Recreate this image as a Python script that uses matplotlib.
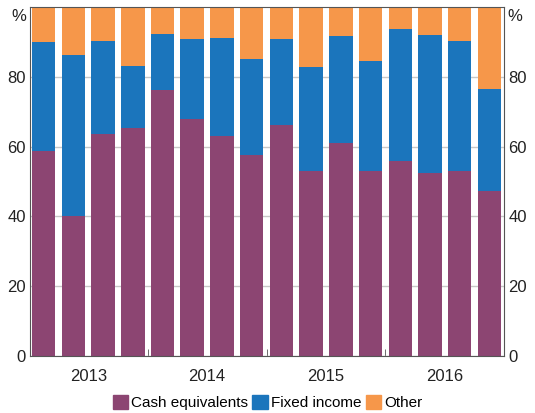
import numpy as np
import matplotlib
matplotlib.use('Agg')
import matplotlib.pyplot as plt
from matplotlib.patches import Patch

plt.rcParams['font.family'] = ['Liberation Sans', 'DejaVu Sans']

# quarterly shares, 2013 Q1 .. 2016 Q4
years = ['2013', '2014', '2015', '2016']
cash = [58.8, 40.2, 63.7, 65.3, 76.2, 68.0, 63.0, 57.5,
        66.1, 53.0, 61.0, 52.9, 55.9, 52.5, 52.9, 47.3]
fixed = [31.3, 46.1, 26.7, 17.8, 16.2, 22.8, 28.2, 27.7,
         24.6, 29.7, 30.6, 31.7, 37.7, 39.6, 37.5, 29.3]
other = [100 - c - f for c, f in zip(cash, fixed)]

c_cash = '#8C4572'
c_fixed = '#1B75BC'
c_other = '#F6974A'

x = np.arange(len(cash))
cash = np.array(cash)
fixed = np.array(fixed)
other = np.array(other)

fig = plt.figure(figsize=(5.35, 4.13), dpi=100)
ax = fig.add_axes([0.056, 0.138, 0.886, 0.845])

w = 0.79
ax.bar(x, cash, w, color=c_cash, zorder=2)
ax.bar(x, fixed, w, bottom=cash, color=c_fixed, zorder=2)
ax.bar(x, other, w, bottom=cash + fixed, color=c_other, zorder=2)

ax.set_ylim(0, 100)
ax.set_xlim(-0.46, 15.49)
ax.set_yticks([0, 20, 40, 60, 80])
ax.yaxis.grid(True, color='#c8c8c8', linewidth=1, zorder=0)
ax.tick_params(axis='y', length=0, labelsize=12, pad=3, labelcolor='#222222',
               right=True, labelright=True)

ax.set_xticks([1.5, 5.5, 9.5, 13.5])
ax.set_xticklabels(years)
ax.set_xticks([3.5, 7.5, 11.5], minor=True)
ax.tick_params(axis='x', which='major', length=0, labelsize=12, pad=9, labelcolor='#222222')
ax.tick_params(axis='x', which='minor', direction='in', length=5, color='#555555')

for s in ax.spines.values():
    s.set_color('#555555')
    s.set_zorder(3)

ax.text(-0.008, 97.2, '%', transform=ax.get_yaxis_transform(), ha='right', va='center',
        fontsize=12, color='#222222')
ax.text(1.008, 97.2, '%', transform=ax.get_yaxis_transform(), ha='left', va='center',
        fontsize=12, color='#222222')

handles = [Patch(color=c_cash, label='Cash equivalents'),
           Patch(color=c_fixed, label='Fixed income'),
           Patch(color=c_other, label='Other')]
fig.legend(handles=handles, loc='center', bbox_to_anchor=(0.5, 0.025), ncol=3,
           frameon=False, fontsize=11, handlelength=1.0, handleheight=1.0,
           handletextpad=0.2, columnspacing=0.3, borderpad=0)

fig.savefig('out.png', dpi=100)
